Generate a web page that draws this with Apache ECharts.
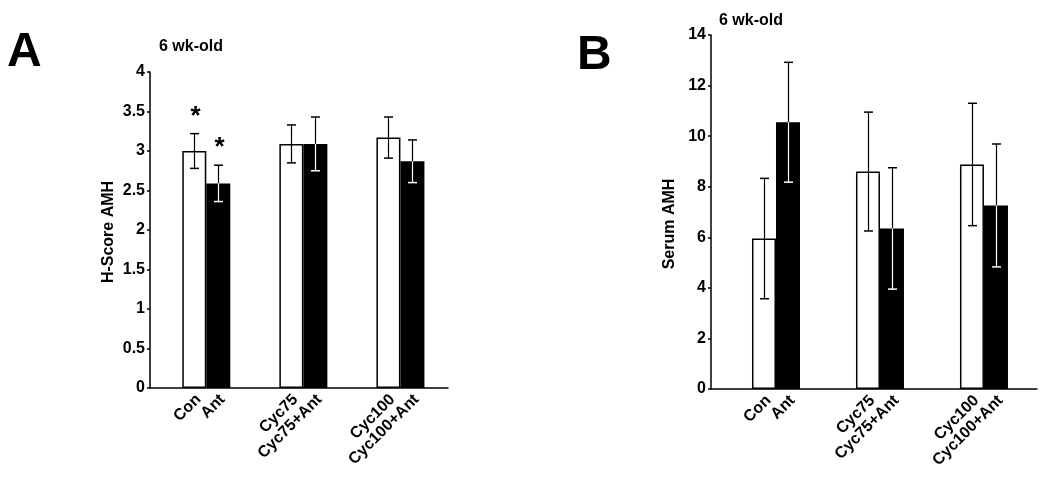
<!DOCTYPE html>
<html>
<head>
<meta charset="utf-8">
<script src="https://cdn.jsdelivr.net/npm/echarts@6/dist/echarts.min.js"></script>
<style>
  html, body { margin: 0; padding: 0; background: #fff; }
  #chart { width: 1050px; height: 479px; }
</style>
</head>
<body>
<div id="chart"></div>
<script>
// grupos en el eje x y etiquetas de cada barra
const grupos = [0, 1, 2];
const etiquetasBlancas = ["Con", "Cyc75", "Cyc100"];
const etiquetasNegras = ["Ant", "Cyc75+Ant", "Cyc100+Ant"];

// panel A: H-Score AMH
const hScoreBlancas = [3.0, 3.09, 3.17];
const hScoreNegras = [2.59, 3.09, 2.87];
const hScoreErrBlancas = [0.22, 0.24, 0.26];
const hScoreErrNegras = [0.23, 0.34, 0.27];
const asteriscosBlancas = ["*", "", ""];
const asteriscosNegras = ["*", "", ""];

// panel B: Serum AMH
const serumBlancas = [5.95, 8.6, 8.88];
const serumNegras = [10.55, 6.35, 7.26];
const serumErrBlancas = [2.38, 2.35, 2.42];
const serumErrNegras = [2.37, 2.4, 2.43];
const sinAsteriscos = ["", "", ""];

const fuente = '"Liberation Sans", Arial, Helvetica, sans-serif';
const anchoBarra = 24;

function serieError(indice, blancas, negras, errB, errN, astB, astN) {
  const datos = [];
  const textos = [];
  const asts = [];
  grupos.forEach((g, i) => {
    datos.push([g, blancas[i], errB[i], 0]);
    datos.push([g, negras[i], errN[i], 1]);
    textos.push(etiquetasBlancas[i], etiquetasNegras[i]);
    asts.push(astB[i], astN[i]);
  });
  return {
    type: "custom",
    xAxisIndex: indice,
    yAxisIndex: indice,
    data: datos,
    z: 10,
    silent: true,
    renderItem: (params, api) => {
      const g = api.value(0), v = api.value(1), e = api.value(2), lado = api.value(3);
      const centro = api.coord([g, v]);
      const x = Math.round(centro[0] + (lado === 0 ? -anchoBarra / 2 : anchoBarra / 2)) + 0.5;
      const yMedia = centro[1];
      const yAlto = api.coord([g, v + e])[1];
      const yBajo = api.coord([g, v - e])[1];
      const yCero = api.coord([g, 0])[1];
      const colorBajo = lado === 0 ? "#000" : "#fff";
      const cap = 4.5;
      const hijos = [
        { type: "line", shape: { x1: x, y1: yAlto, x2: x, y2: yMedia }, style: { stroke: "#000", lineWidth: 1.2 } },
        { type: "line", shape: { x1: x - cap, y1: yAlto, x2: x + cap, y2: yAlto }, style: { stroke: "#000", lineWidth: 1.5 } },
        { type: "line", shape: { x1: x, y1: yMedia, x2: x, y2: yBajo }, style: { stroke: colorBajo, lineWidth: 1.2 } },
        { type: "line", shape: { x1: x - cap, y1: yBajo, x2: x + cap, y2: yBajo }, style: { stroke: colorBajo, lineWidth: 1.5 } },
        {
          type: "text", x: x + 4, y: yCero + 9, rotation: Math.PI / 4,
          style: { text: textos[params.dataIndex], align: "right", verticalAlign: "middle",
                   fontSize: 16, fontWeight: "bold", fontFamily: fuente, fill: "#000" }
        }
      ];
      if (asts[params.dataIndex]) {
        hijos.push({
          type: "text", x: x + 1, y: yAlto - 30,
          style: { text: asts[params.dataIndex], align: "center", verticalAlign: "top",
                   fontSize: 26, fontWeight: "bold", fontFamily: fuente, fill: "#000" }
        });
      }
      return { type: "group", children: hijos };
    }
  };
}

function seriesBarras(indice, blancas, negras) {
  return [
    {
      type: "bar", xAxisIndex: indice, yAxisIndex: indice,
      data: grupos.map((g, i) => [g, blancas[i]]),
      barWidth: anchoBarra, barGap: "0%", silent: true,
      itemStyle: { color: "#fff", borderColor: "#000", borderWidth: 1.5 }
    },
    {
      type: "bar", xAxisIndex: indice, yAxisIndex: indice,
      data: grupos.map((g, i) => [g, negras[i]]),
      barWidth: anchoBarra, barGap: "0%", silent: true,
      itemStyle: { color: "#000" }
    }
  ];
}

function ejeX(indice, min, max) {
  return {
    type: "value", gridIndex: indice, min, max,
    axisLine: { show: true, onZero: true, lineStyle: { color: "#000", width: 1.5 } },
    axisTick: { show: false }, axisLabel: { show: false }, splitLine: { show: false }
  };
}

function ejeY(indice, max, interval, nombre, nameGap, padding) {
  return {
    type: "value", gridIndex: indice, min: 0, max, interval,
    name: nombre, nameLocation: "middle", nameGap,
    nameTextStyle: { color: "#000", fontSize: 16, fontWeight: "bold", fontFamily: fuente, padding },
    axisLine: { show: true, onZero: false, lineStyle: { color: "#000", width: 1.5 } },
    axisTick: { show: true, length: 3, lineStyle: { color: "#000", width: 1.5 } },
    axisLabel: { color: "#000", fontSize: 16, fontWeight: "bold", fontFamily: fuente, margin: 5 },
    splitLine: { show: false }
  };
}

const texto = (t, x, y, size) => ({
  type: "text", x, y,
  style: { text: t, fontSize: size, fontWeight: "bold", fontFamily: fuente, fill: "#000", verticalAlign: "middle" }
});

const option = {
  backgroundColor: "#fff",
  animation: false,
  graphic: [
    texto("A", 7, 53, 48),
    texto("B", 577, 56, 48),
    texto("6 wk-old", 159, 47, 16),
    texto("6 wk-old", 719, 21, 16)
  ],
  grid: [
    { left: 150, top: 72, width: 298, height: 316 },
    { left: 711, top: 35, width: 326, height: 354 }
  ],
  xAxis: [ejeX(0, -0.58, 2.49), ejeX(1, -0.625, 2.51)],
  yAxis: [
    ejeY(0, 4, 0.5, "H-Score AMH", 33, [0, 4, 0, 0]),
    ejeY(1, 14, 2, "Serum AMH", 33, [0, 24, 0, 0])
  ],
  series: [
    ...seriesBarras(0, hScoreBlancas, hScoreNegras),
    serieError(0, hScoreBlancas, hScoreNegras, hScoreErrBlancas, hScoreErrNegras, asteriscosBlancas, asteriscosNegras),
    ...seriesBarras(1, serumBlancas, serumNegras),
    serieError(1, serumBlancas, serumNegras, serumErrBlancas, serumErrNegras, sinAsteriscos, sinAsteriscos)
  ]
};

const miGrafico = echarts.init(document.getElementById("chart"));
miGrafico.setOption(option);
</script>
</body>
</html>
